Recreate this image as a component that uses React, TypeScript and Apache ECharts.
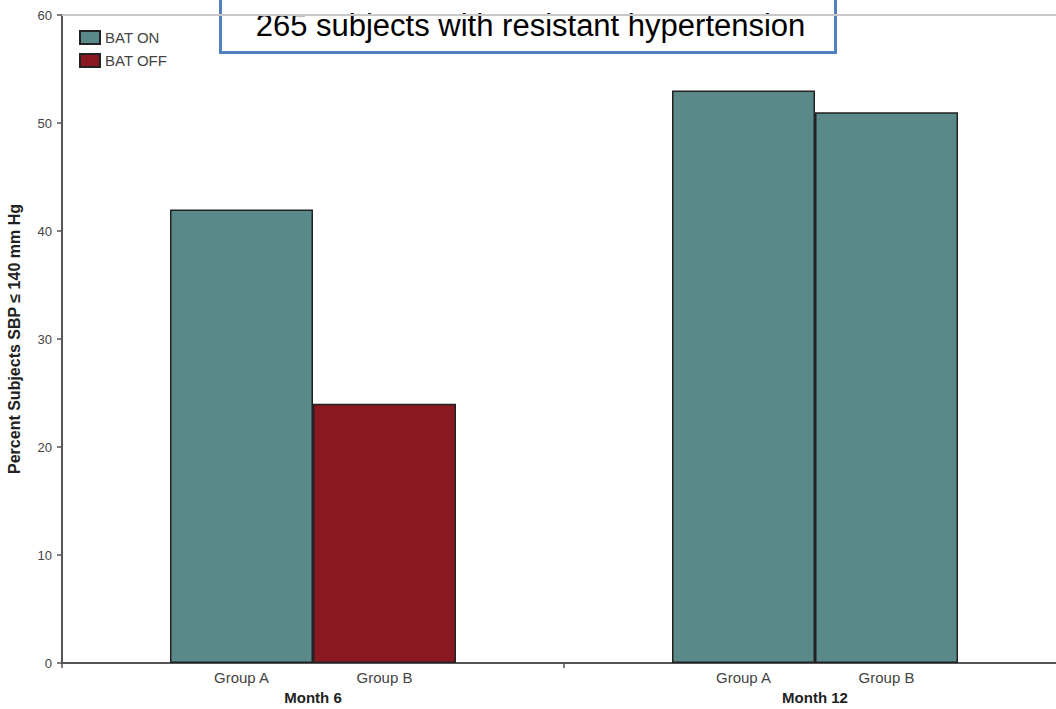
import React, { useEffect, useRef } from "react";
import * as echarts from "echarts";

const months = ["Month 6", "Month 12"];
const groupALabels = ["Group A", "Group A"];
const groupBLabels = ["Group B", "Group B"];
const batOnGroupA = [42, 53];
const batOffGroupB: (number | null)[] = [24, null];
const batOnGroupB: (number | null)[] = [null, 51];
const yTicks = [0, 10, 20, 30, 40, 50, 60];
const titleText = "265 subjects with resistant hypertension";
const yAxisName = "Percent Subjects SBP \u2264 140 mm Hg";

const TEAL = "#5a8989";
const RED = "#891821";
const FONT = "Liberation Sans, Arial, sans-serif";

export default function App() {
  const ref = useRef<HTMLDivElement>(null);
  useEffect(() => {
    document.body.style.margin = "0";
    const chart = echarts.init(ref.current!, null, { renderer: "svg" });
    const barLabel = (names: string[]) => ({
      show: true,
      position: "bottom",
      distance: 7,
      color: "#444",
      fontSize: 15,
      fontFamily: FONT,
      formatter: (p: any) => names[p.dataIndex],
    });
    chart.setOption({
      animation: false,
      backgroundColor: "#fff",
      textStyle: { fontFamily: FONT },
      grid: { left: 62, top: 15, width: 1004, bottom: 46, outerBoundsMode: "none", containLabel: false },
      legend: {
        left: 74,
        top: 25,
        orient: "vertical",
        itemWidth: 20,
        itemHeight: 13,
        itemGap: 8,
        icon: "rect",
        data: ["BAT ON", "BAT OFF"],
        textStyle: { color: "#444", fontSize: 15, fontFamily: FONT },
      },
      xAxis: [
        {
          type: "category",
          data: months,
          position: "bottom",
          axisLine: { lineStyle: { color: "#555", width: 2 } },
          axisTick: { show: true, length: 5, lineStyle: { color: "#555", width: 1.5 } },
          axisLabel: { margin: 27, color: "#222", fontSize: 15, fontWeight: "bold", fontFamily: FONT },
        },
        {
          type: "category",
          data: months,
          position: "top",
          axisLine: { lineStyle: { color: "#c8c8c8", width: 2 } },
          axisTick: { show: false },
          axisLabel: { show: false },
        },
      ],
      yAxis: {
        type: "value",
        min: yTicks[0],
        max: yTicks[yTicks.length - 1],
        interval: 10,
        name: yAxisName,
        nameLocation: "middle",
        nameGap: 40,
        nameTextStyle: { color: "#222", fontSize: 16, fontWeight: "bold", fontFamily: FONT },
        axisLine: { show: true, lineStyle: { color: "#555", width: 2 } },
        axisTick: { show: true, length: 5, lineStyle: { color: "#555", width: 1.5 } },
        axisLabel: { color: "#444", fontSize: 13, margin: 10, fontFamily: FONT },
        splitLine: { show: false },
      },
      series: [
        {
          name: "BAT ON",
          type: "bar",
          data: batOnGroupA,
          barWidth: 143,
          barGap: "0%",
          itemStyle: { color: TEAL, borderColor: "#222", borderWidth: 1.5 },
          label: barLabel(groupALabels),
        },
        {
          name: "BAT OFF",
          type: "bar",
          stack: "B",
          data: batOffGroupB,
          barWidth: 143,
          barGap: "0%",
          itemStyle: { color: RED, borderColor: "#222", borderWidth: 1.5 },
          label: barLabel(groupBLabels),
        },
        {
          name: "BAT ON",
          type: "bar",
          stack: "B",
          data: batOnGroupB,
          barWidth: 143,
          barGap: "0%",
          itemStyle: { color: TEAL, borderColor: "#222", borderWidth: 1.5 },
          label: barLabel(groupBLabels),
        },
      ],
      graphic: [
        {
          type: "group",
          left: 219,
          top: -4,
          children: [
            {
              type: "rect",
              shape: { x: 0, y: 0, width: 615, height: 55 },
              style: { fill: "#fff", stroke: "#4f7fbd", lineWidth: 3 },
            },
            {
              type: "text",
              x: 310,
              y: 28,
              style: {
                text: titleText,
                fill: "#000",
                fontSize: 31,
                fontFamily: FONT,
                align: "center",
                verticalAlign: "middle",
              },
            },
          ],
        },
      ],
    });
    return () => chart.dispose();
  }, []);
  return <div ref={ref} style={{ width: 1056, height: 709 }} />;
}
